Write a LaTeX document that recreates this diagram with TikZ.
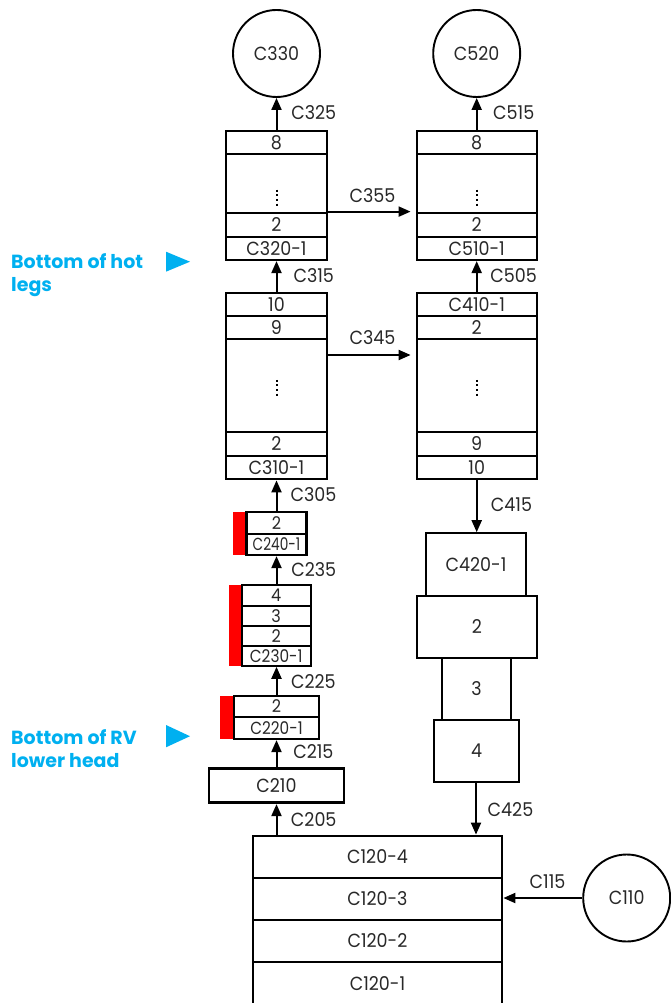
\documentclass[tikz,border=0pt]{standalone}
\usepackage{fontspec}
\setmainfont{Poppins}[FakeStretch=0.92]
\newfontfamily\annotfont{Poppins}
\usetikzlibrary{arrows.meta}
\definecolor{annot}{RGB}{0,176,240}
\definecolor{txt}{RGB}{40,40,40}
\tikzset{
  lbl/.style={font=\fontsize{19}{22}\selectfont, text=txt, inner sep=0pt},
  cell/.style={draw, line width=2.2pt, inner sep=0pt, lbl},
  smallcell/.style={cell, font=\fontsize{17.5}{20}\selectfont},
  circ/.style={draw, circle, line width=1.9pt, minimum size=87pt, inner sep=0pt, lbl},
  conn/.style={line width=2pt, -{Triangle[length=12pt,width=10pt]}},
  vdots/.style={line width=2pt, dash pattern=on 2pt off 2.6pt},
  annotxt/.style={font=\annotfont\fontsize{19}{23.3}\selectfont\bfseries, text=annot, align=left, inner sep=0pt},
}
\begin{document}
\begin{tikzpicture}[x=1pt,y=-1pt]
\useasboundingbox (0,0) rectangle (670,1003);
% red bars
\fill[red] (232.7,511.7) rectangle (246.7,555);
\fill[red] (229.3,585) rectangle (241.7,665.7);
\fill[red] (220,695.7) rectangle (234,739);
% circles
\node[circ] (c330) at (276.5,53.5) {C330};
\node[circ] (c520) at (476.7,53.5) {C520};
% C320 stack
\node[cell, minimum width=100.7pt, minimum height=23.3pt] (c320r8) at (276.5,142.65) {8};
\node[cell, minimum width=100.7pt, minimum height=58.4pt] (c320d) at (276.5,183.5) {};
\node[cell, minimum width=100.7pt, minimum height=24.6pt] (c320r2) at (276.5,225) {2};
\node[cell, minimum width=100.7pt, minimum height=22.7pt] (c320r1) at (276.5,248.65) {C320-1};
% C510 stack
\node[cell, minimum width=120pt, minimum height=23.3pt] (c510r8) at (476.7,142.65) {8};
\node[cell, minimum width=120pt, minimum height=58.4pt] (c510d) at (476.7,183.5) {};
\node[cell, minimum width=120pt, minimum height=24.6pt] (c510r2) at (476.7,225) {2};
\node[cell, minimum width=120pt, minimum height=22.7pt] (c510r1) at (476.7,248.65) {C510-1};
% C310 stack
\node[cell, minimum width=100.7pt, minimum height=23pt] (c310r10) at (276.5,304.2) {10};
\node[cell, minimum width=100.7pt, minimum height=23.6pt] (c310r9) at (276.5,327.5) {9};
\node[cell, minimum width=100.7pt, minimum height=93pt] (c310d) at (276.5,385.8) {};
\node[cell, minimum width=100.7pt, minimum height=23.4pt] (c310r2) at (276.5,444) {2};
\node[cell, minimum width=100.7pt, minimum height=23.6pt] (c310r1) at (276.5,467.5) {C310-1};
% C410 stack
\node[cell, minimum width=120pt, minimum height=23pt] (c410r1) at (476.7,304.2) {C410-1};
\node[cell, minimum width=120pt, minimum height=23.6pt] (c410r2) at (476.7,327.5) {2};
\node[cell, minimum width=120pt, minimum height=93pt] (c410d) at (476.7,385.8) {};
\node[cell, minimum width=120pt, minimum height=23.4pt] (c410r9) at (476.7,444) {9};
\node[cell, minimum width=120pt, minimum height=23.6pt] (c410r10) at (476.7,467.5) {10};
% vertical dots
\draw[vdots] (c320d.center) ++(0,6.2) -- ++(0,15.8);
\draw[vdots] (c510d.center) ++(0,6.2) -- ++(0,15.8);
\draw[vdots] (c310d.center) ++(0,-6) -- ++(0,15.8);
\draw[vdots] (c410d.center) ++(0,-6) -- ++(0,15.8);
% C240
\node[smallcell, minimum width=60pt, minimum height=22.3pt] (c240r2) at (276.5,522.85) {2};
\node[smallcell, minimum width=60pt, minimum height=21pt] (c240r1) at (276.5,544.5) {\scalebox{0.85}[1]{C240-1}};
% C230
\node[smallcell, minimum width=69pt, minimum height=21pt] (c230r4) at (276.2,595.5) {4};
\node[smallcell, minimum width=69pt, minimum height=19.7pt] (c230r3) at (276.2,615.85) {3};
\node[smallcell, minimum width=69pt, minimum height=20pt] (c230r2) at (276.2,635.7) {2};
\node[smallcell, minimum width=69pt, minimum height=20pt] (c230r1) at (276.2,655.7) {\scalebox{0.95}[1]{C230-1}};
% C220
\node[smallcell, minimum width=85pt, minimum height=21.6pt] (c220r2) at (276.5,706.5) {2};
\node[smallcell, minimum width=85pt, minimum height=21.7pt] (c220r1) at (276.5,728.15) {\scalebox{0.95}[1]{C220-1}};
% C210
\node[cell, line width=2.8pt, minimum width=135pt, minimum height=34pt] (c210) at (276.5,785.7) {C210};
% C420
\node[cell, minimum width=100pt, minimum height=62.4pt] (c420r1) at (476,564.5) {C420-1};
\node[cell, minimum width=119.4pt, minimum height=62pt] (c420r2) at (477,626.7) {2};
\node[cell, minimum width=68.4pt, minimum height=62.3pt] (c420r3) at (476.5,688.85) {3};
\node[cell, minimum width=84.7pt, minimum height=62.3pt] (c420r4) at (476.65,751.15) {4};
% C120
\node[cell, minimum width=249.6pt, minimum height=42pt] (c120r4) at (377.5,856.7) {C120-4};
\node[cell, minimum width=249.6pt, minimum height=42.3pt] (c120r3) at (377.5,898.85) {C120-3};
\node[cell, minimum width=249.6pt, minimum height=42pt] (c120r2) at (377.5,941) {C120-2};
\node[cell, minimum width=249.6pt, minimum height=44pt] (c120r1) at (377.5,984) {C120-1};
% C110
\node[circ] (c110) at (626.7,898) {C110};
% connectors
\draw[conn] (c330.south |- c320r8.north) -- (c330.south);
\draw[conn] (c520.south |- c510r8.north) -- (c520.south);
\draw[conn, shorten >=5pt] (c320r2.north east) -- (c510r2.north west);
\draw[conn] (c310r10.north) -- (c320r1.south);
\draw[conn] (c410r1.north) -- (c510r1.south);
\coordinate (y345) at (0,355);
\draw[conn, shorten >=5pt] (c310d.east |- y345) -- (c410d.west |- y345);
\draw[conn] (c240r2.north) -- (c310r1.south -| c240r2.north);
\draw[conn] (c410r10.south) -- (c420r1.north -| c410r10.south);
\draw[conn] (c230r4.north -| c240r1.south) -- (c240r1.south);
\draw[conn] (c220r2.north -| c240r1.south) -- (c230r1.south -| c240r1.south);
\draw[conn] (c210.north -| c240r1.south) -- (c220r1.south -| c240r1.south);
\draw[conn] (c120r4.north -| c240r1.south) -- (c210.south -| c240r1.south);
\draw[conn] (c420r4.south -| c420r1.north) -- (c120r4.north -| c420r1.north);
\draw[conn] (c110.west) -- (c110.west -| c120r3.east);
% connector labels
\node[lbl] (l325) at (313.7,112.5) {C325};
\node[lbl] (l515) at (513.7,112.5) {C515};
\node[lbl] (l355) at (372.5,196) {C355};
\node[lbl] (l315) at (313.7,276) {C315};
\node[lbl] (l505) at (513.7,276) {C505};
\node[lbl] (l345) at (372.5,337.5) {C345};
\node[lbl] (l305) at (313.4,494.5) {C305};
\node[lbl] (l415) at (511.5,505) {C415};
\node[lbl] (l235) at (313.7,570) {C235};
\node[lbl] (l225) at (313.4,682) {C225};
\node[lbl] (l215) at (313.4,752) {C215};
\node[lbl] (l205) at (313.7,820) {C205};
\node[lbl] (l425) at (510.5,809.5) {C425};
\node[lbl] (l115) at (547.5,881.5) {C115};
% annotations
\node[annotxt, anchor=north west] (hot) at (11,253) {Bottom of hot\\legs};
\fill[annot] (166,251.7) -- (190,261.7) -- (166,271.7) -- cycle;
\node[annotxt, anchor=north west] (rv) at (11,729.5) {Bottom of RV\\lower head};
\fill[annot] (166,725) -- (190,736.2) -- (166,747.3) -- cycle;
\end{tikzpicture}
\end{document}
